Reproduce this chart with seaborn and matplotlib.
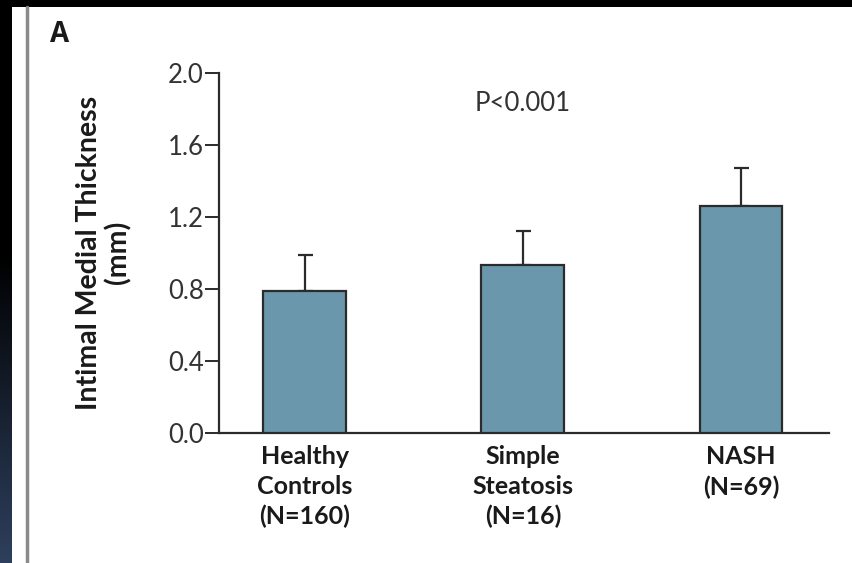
import numpy as np
import pandas as pd
import matplotlib
matplotlib.use("Agg")
import matplotlib.pyplot as plt
import seaborn as sns
from matplotlib.lines import Line2D
from matplotlib.patches import Rectangle

categories = ["Healthy\nControls\n(N=160)", "Simple\nSteatosis\n(N=16)", "NASH\n(N=69)"]
means = [0.79, 0.93, 1.26]
sd_upper = [0.20, 0.19, 0.21]
yticks = [0.0, 0.4, 0.8, 1.2, 1.6, 2.0]
ytick_labels = ["0.0", "0.4", "0.8", "1.2", "1.6", "2.0"]

sns.set_theme(style="white")
plt.rcParams['font.family'] = ['Lato', 'DejaVu Sans']

df = pd.DataFrame({"group": categories, "imt": means})

W, H = 852, 563
fig = plt.figure(figsize=(W / 100, H / 100), dpi=100)
fig.patch.set_facecolor("white")

# decorative frame: black top band, left gradient strip, gray rule
fig.patches.append(Rectangle((0, 1 - 7 / H), 1, 7 / H, transform=fig.transFigure,
                             facecolor="black", edgecolor="none", zorder=0))
grad_ax = fig.add_axes([0, 0, 12 / W, 1 - 7 / H])
grad_ax.set_axis_off()
yy = np.linspace(0, 1, H)[:, None]
start = 251 / H
t = np.clip((yy - start) / (1 - start), 0, 1)
top_c = np.array([0, 0, 0])
bot_c = np.array([0x2e, 0x40, 0x5e]) / 255
img = top_c + (bot_c - top_c) * t[..., None]
grad_ax.imshow(img, aspect="auto", extent=[0, 1, 0, 1])
fig.add_artist(Line2D([27 / W, 27 / W], [0, 1 - 7 / H], transform=fig.transFigure,
                      color="#8a8a8a", linewidth=2.5))

ax = fig.add_axes([219 / W, 1 - 433 / H, (829 - 219) / W, (433 - 72.7) / H])
sns.barplot(data=df, x="group", y="imt", ax=ax, color="#6a97ab", saturation=1,
            width=0.38, errorbar=None, edgecolor="#2b2b2b", linewidth=1.6, zorder=3)
ax.errorbar(range(len(means)), means, yerr=[[0] * len(means), sd_upper], fmt="none",
            ecolor="#2b2b2b", elinewidth=1.6, capsize=5.4, capthick=1.6, zorder=2)

ax.set_ylim(0, 2.0)
ax.set_xlim(-0.394, 2.404)
ax.set_yticks(yticks)
ax.set_yticklabels(ytick_labels)
ax.set_xlabel("")
ax.set_ylabel("Intimal Medial Thickness\n(mm)", fontsize=20.5, fontweight="bold",
              color="#1a1a1a", labelpad=26, linespacing=1.1)
for s in ["top", "right"]:
    ax.spines[s].set_visible(False)
for s in ["left", "bottom"]:
    ax.spines[s].set_color("#2b2b2b")
    ax.spines[s].set_linewidth(1.6)
ax.tick_params(axis="y", which="both", left=True, length=10, width=1.4, color="#2b2b2b",
               labelsize=18.5, labelcolor="#333333", pad=1)
ax.tick_params(axis="x", bottom=False, pad=3)
for lbl in ax.get_xticklabels():
    lbl.set_fontsize(18)
    lbl.set_fontweight("bold")
    lbl.set_color("#1a1a1a")
    lbl.set_linespacing(1.35)

ax.text(1, 1.83, "P<0.001", ha="center", va="center", fontsize=18.5, color="#333333")
fig.text(50 / W, 1 - 35 / H, "A", fontsize=20, fontweight="bold", color="#1a1a1a",
         ha="left", va="center", family=["Open Sans", "DejaVu Sans"])

fig.savefig("out.png", dpi=100)
